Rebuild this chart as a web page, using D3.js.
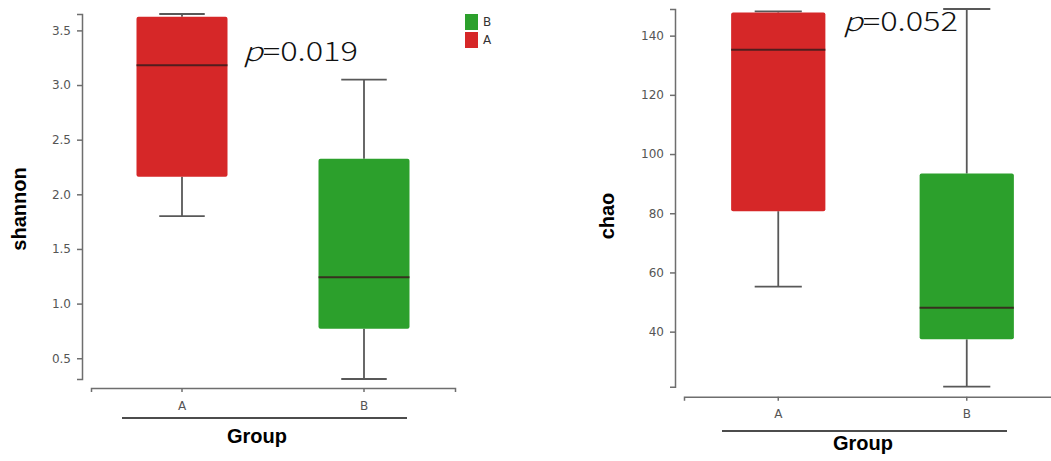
<!DOCTYPE html>
<html>
<head>
<meta charset="utf-8">
<script src="https://cdn.jsdelivr.net/npm/d3@7"></script>
<style>
  html, body { margin: 0; padding: 0; background: #fff; }
  svg { display: block; }
</style>
</head>
<body>
<svg id="chart" width="1051" height="461"></svg>
<script>
// ---------- data ----------
const groups = ["A", "B"];
const legendOrder = ["B", "A"];

// shannon: per group [A, B]
const shannonMin    = [1.80, 0.31];
const shannonQ1     = [2.16, 0.77];
const shannonMedian = [3.18, 1.24];
const shannonQ3     = [3.625, 2.325];
const shannonMax    = [3.65, 3.05];
const shannonTicks  = [0.5, 1.0, 1.5, 2.0, 2.5, 3.0, 3.5];
const shannonP = "0.019";

// chao: per group [A, B]
const chaoMin    = [55.2, 21.4];
const chaoQ1     = [80.7, 37.4];
const chaoMedian = [135.2, 48.1];
const chaoQ3     = [147.8, 93.4];
const chaoMax    = [148.2, 149.0];
const chaoTicks  = [40, 60, 80, 100, 120, 140];
const chaoP = "0.052";

const colors = { A: "#d62728", B: "#2ca02c" };

// ---------- drawing ----------
const svg = d3.select("#chart");
const axisColor = "#6e6e6e";
const tickFont = "'DejaVu Sans', Verdana, sans-serif";
const boldFont = "'Liberation Sans', Arial, sans-serif";

function panel(opts) {
  const { mins, q1s, meds, q3s, maxs, ticks, fmt, yLabel, pText, L } = opts;
  const all = mins.concat(maxs);
  const y = d3.scaleLinear().domain(d3.extent(all)).range([L.yBottom, L.yTop]);
  const x = d3.scaleBand().domain(groups).range([L.xLeft, L.xRight]);
  const g = svg.append("g");

  // y axis
  const ya = g.append("g").attr("transform", `translate(${L.yAxisX},0)`)
    .call(d3.axisLeft(y).tickValues(ticks).tickFormat(fmt).tickSize(5).tickSizeOuter(5).tickPadding(6));
  ya.select(".domain").attr("stroke", axisColor).attr("stroke-width", 1.5);
  ya.selectAll(".tick line").attr("stroke", axisColor).attr("stroke-width", 1.5);
  ya.selectAll(".tick text").attr("fill", "#555").style("font-family", tickFont).style("font-size", "12px");

  // x axis
  const xa = g.append("g").attr("transform", `translate(0,${L.xAxisY})`)
    .call(d3.axisBottom(x).tickSize(4).tickSizeOuter(4).tickPadding(9));
  xa.select(".domain").attr("stroke", axisColor).attr("stroke-width", 1.5);
  xa.selectAll(".tick line").attr("stroke", axisColor).attr("stroke-width", 1.5);
  xa.selectAll(".tick text").attr("fill", "#555").style("font-family", tickFont).style("font-size", "12px");

  // boxes
  const bw = x.bandwidth() * 0.5;
  const cw = x.bandwidth() * 0.25;
  groups.forEach((grp, i) => {
    const cx = x(grp) + x.bandwidth() / 2;
    // whiskers
    g.append("line").attr("x1", cx).attr("x2", cx).attr("y1", y(maxs[i])).attr("y2", y(q3s[i]))
      .attr("stroke", "#585858").attr("stroke-width", 1.8);
    g.append("line").attr("x1", cx).attr("x2", cx).attr("y1", y(q1s[i])).attr("y2", y(mins[i]))
      .attr("stroke", "#585858").attr("stroke-width", 1.8);
    g.append("line").attr("x1", cx - cw / 2).attr("x2", cx + cw / 2).attr("y1", y(maxs[i])).attr("y2", y(maxs[i]))
      .attr("stroke", "#585858").attr("stroke-width", 1.8);
    g.append("line").attr("x1", cx - cw / 2).attr("x2", cx + cw / 2).attr("y1", y(mins[i])).attr("y2", y(mins[i]))
      .attr("stroke", "#585858").attr("stroke-width", 1.8);
    // box
    g.append("rect").attr("x", cx - bw / 2).attr("width", bw)
      .attr("y", y(q3s[i])).attr("height", y(q1s[i]) - y(q3s[i]))
      .attr("rx", 2).attr("fill", colors[grp]);
    // median
    g.append("line").attr("x1", cx - bw / 2).attr("x2", cx + bw / 2).attr("y1", y(meds[i])).attr("y2", y(meds[i]))
      .attr("stroke", "#3a1c1c").attr("stroke-opacity", 0.85).attr("stroke-width", 2);
  });

  // y label
  g.append("text").attr("transform", `translate(${L.yLabelX},${L.yLabelY}) rotate(-90)`)
    .attr("text-anchor", "middle").style("font-family", boldFont).style("font-weight", "bold")
    .style("font-size", "20px").attr("fill", "#000").text(yLabel);

  // underline and x label
  g.append("line").attr("x1", L.ulX1).attr("x2", L.ulX2).attr("y1", L.ulY).attr("y2", L.ulY)
    .attr("stroke", "#111").attr("stroke-width", 1.5);
  g.append("text").attr("x", L.gX).attr("y", L.gY).attr("text-anchor", "middle")
    .style("font-family", boldFont).style("font-weight", "bold").style("font-size", "20px")
    .attr("fill", "#000").text("Group");

  // p-value
  const pt = g.append("text").attr("x", L.pX).attr("y", L.pY)
    .style("font-family", "'Noto Sans CJK SC', Roboto, 'Open Sans', sans-serif")
    .style("font-weight", 300).style("font-size", "26px").attr("fill", "#111")
    .attr("textLength", L.pW).attr("lengthAdjust", "spacingAndGlyphs");
  pt.append("tspan").style("font-style", "italic").text("p");
  pt.append("tspan").text("=" + pText);
}

panel({
  mins: shannonMin, q1s: shannonQ1, meds: shannonMedian, q3s: shannonQ3, maxs: shannonMax,
  ticks: shannonTicks, fmt: d3.format(".1f"), yLabel: "shannon", pText: shannonP,
  L: { yBottom: 379, yTop: 14, xLeft: 91, xRight: 455, yAxisX: 82, xAxisY: 388,
       yLabelX: 26, yLabelY: 209, ulX1: 122, ulX2: 407, ulY: 418, gX: 257, gY: 443,
       pX: 243, pY: 61, pW: 115 }
});

panel({
  mins: chaoMin, q1s: chaoQ1, meds: chaoMedian, q3s: chaoQ3, maxs: chaoMax,
  ticks: chaoTicks, fmt: d3.format("d"), yLabel: "chao", pText: chaoP,
  L: { yBottom: 386.7, yTop: 9, xLeft: 684, xRight: 1061, yAxisX: 675, xAxisY: 396.7,
       yLabelX: 614, yLabelY: 216, ulX1: 722, ulX2: 1007, ulY: 431, gX: 863, gY: 450,
       pX: 843, pY: 31, pW: 115 }
});

// legend
const lg = svg.append("g");
legendOrder.forEach((grp, i) => {
  lg.append("rect").attr("x", 465).attr("y", 14 + i * 18).attr("width", 13).attr("height", 16)
    .attr("fill", colors[grp]);
  lg.append("text").attr("x", 483).attr("y", 22 + i * 18).attr("dy", "0.35em")
    .style("font-family", tickFont).style("font-size", "12px").attr("fill", "#333").text(grp);
});
</script>
</body>
</html>
